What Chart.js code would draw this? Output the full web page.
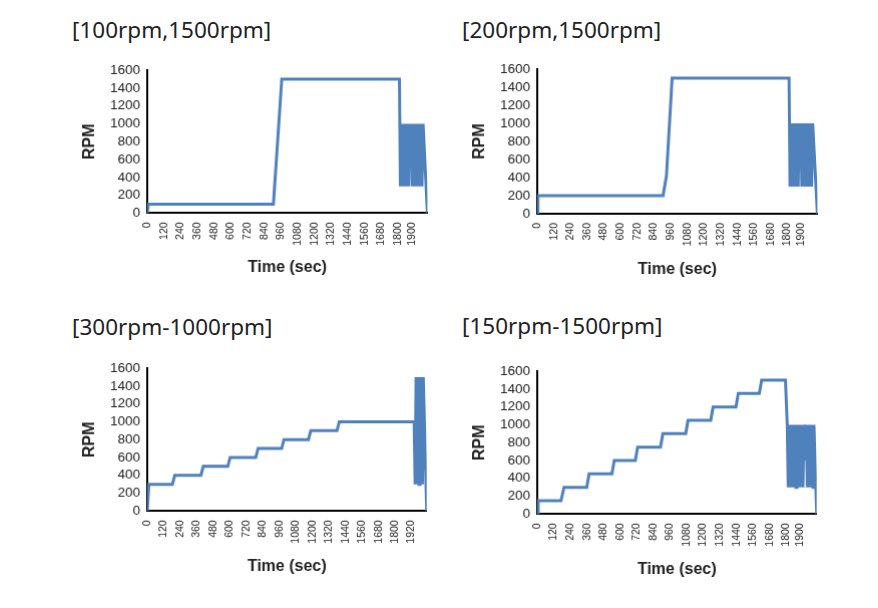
<!DOCTYPE html>
<html>
<head>
<meta charset="utf-8">
<script src="https://cdn.jsdelivr.net/npm/chart.js@4.4.1/dist/chart.umd.min.js"></script>
<style>
  body { margin: 0; background: #fff; width: 878px; height: 608px; position: relative; overflow: hidden; }
  .title { position: absolute; font-family: "Noto Sans", sans-serif; font-size: 22.5px; line-height: 22px; color: #222; white-space: nowrap; }
  .box { position: absolute; }
</style>
</head>
<body>
<div class="title" style="left:72px;top:19px">[100rpm,1500rpm]</div>
<div class="title" style="left:462px;top:19px">[200rpm,1500rpm]</div>
<div class="title" style="left:72px;top:316px">[300rpm-1000rpm]</div>
<div class="title" style="left:462px;top:315px">[150rpm-1500rpm]</div>

<div class="box" id="b1"><canvas id="c1"></canvas></div>
<div class="box" id="b2"><canvas id="c2"></canvas></div>
<div class="box" id="b3"><canvas id="c3"></canvas></div>
<div class="box" id="b4"><canvas id="c4"></canvas></div>

<script>
// ---- tick labels (sec) ----
const ticksTo1900 = [0, 120, 240, 360, 480, 600, 720, 840, 960, 1080, 1200, 1320, 1440, 1560, 1680, 1800, 1900];
const ticksTo1920 = [0, 120, 240, 360, 480, 600, 720, 840, 960, 1080, 1200, 1320, 1440, 1560, 1680, 1800, 1920];
const rpmTicks = [0, 200, 400, 600, 800, 1000, 1200, 1400, 1600];

// ---- [100rpm,1500rpm] ----
const time100 = [0, 8, 906, 966, 1811, 1818, 1826, 1833, 1841, 1848, 1856, 1863, 1870, 1877, 1884, 1890, 1896, 1903,
                 1910, 1917, 1924, 1931, 1938, 1945, 1952, 1959, 1966, 1973, 1981, 2012];
const rpm100  = [0, 100, 100, 1500, 1500, 300, 1000, 300, 1000, 300, 1000, 300, 1000, 300, 1000, 600, 1000, 300,
                 1000, 300, 1000, 300, 1000, 300, 1000, 300, 1000, 300, 1000, 0];

// ---- [200rpm,1500rpm] ----
const time200 = [0, 5, 905, 929, 970, 1811, 1818, 1826, 1833, 1841, 1848, 1856, 1863, 1870, 1877, 1884, 1890, 1896, 1903,
                 1910, 1917, 1924, 1931, 1938, 1945, 1952, 1959, 1966, 1973, 1981, 2015];
const rpm200  = [0, 200, 200, 420, 1500, 1500, 300, 1000, 300, 1000, 300, 1000, 300, 1000, 300, 1000, 600, 1000, 300,
                 1000, 300, 1000, 300, 1000, 300, 1000, 300, 1000, 300, 1000, 0];

// ---- [300rpm-1000rpm] ----
const time300 = [0, 12, 183, 200, 390, 407, 585, 602, 788, 805, 976, 993, 1171, 1188, 1378, 1395, 1939,
                 1946, 1953, 1960, 1967, 1974, 1981, 1988, 1994, 1999, 2005, 2030];
const rpm300  = [0, 300, 300, 400, 400, 500, 500, 600, 600, 700, 700, 800, 800, 900, 900, 1000, 1000,
                 300, 1500, 300, 1500, 300, 1500, 300, 1500, 300, 1500, 0];

// ---- [150rpm-1500rpm] ----
const time150 = [0, 7, 172, 194, 358, 375, 540, 557, 709, 726, 891, 908, 1073, 1090, 1254, 1271, 1436, 1453, 1605, 1622, 1794,
                 1807, 1814, 1821, 1828, 1835, 1842, 1849, 1856, 1863, 1870, 1877, 1884, 1891, 1898, 1904, 1909, 1914, 1921,
                 1928, 1935, 1940, 1945, 1952, 1959, 1966, 1973, 1980, 1987, 1994, 2000, 2020];
const rpm150  = [0, 150, 150, 300, 300, 450, 450, 600, 600, 750, 750, 900, 900, 1050, 1050, 1200, 1200, 1350, 1350, 1500, 1500,
                 1000, 300, 1000, 300, 1000, 300, 1000, 300, 1000, 300, 1000, 300, 1000, 300, 1000, 600, 1000, 300,
                 1000, 1000, 600, 1000, 300, 1000, 300, 1000, 300, 1000, 300, 1000, 0];

const LINE_BLUE = '#4F81BD';
const TEXT = '#222';
const SANS = '"Liberation Sans", Arial, sans-serif';

// place the box so that the plot area lands on the given rectangle
function makeChart(id, times, rpms, tickVals, area, timeTitleY) {
    const padL = 16, padR = 13, padT = 13;
    const yWidth = 71;
    const left = area.left - padL - yWidth;
    const top = area.top - padT;
    const width = area.right + padR - left;
    const xHeight = (timeTitleY + 13.6) - area.bottom;
    const height = area.bottom + xHeight - top;

    const box = document.getElementById('b' + id);
    box.style.left = left + 'px';
    box.style.top = top + 'px';
    box.style.width = width + 'px';
    box.style.height = height + 'px';

    new Chart(document.getElementById('c' + id), {
        type: 'line',
        data: {
            datasets: [{
                data: times.map((t, i) => ({ x: t, y: rpms[i] })),
                borderColor: LINE_BLUE,
                borderWidth: 3,
                pointRadius: 0,
                tension: 0,
                fill: false
            }]
        },
        options: {
            responsive: true,
            maintainAspectRatio: false,
            animation: false,
            layout: { padding: { left: padL, right: padR, top: padT, bottom: 0 } },
            plugins: { legend: { display: false }, tooltip: { enabled: false } },
            scales: {
                x: {
                    type: 'linear',
                    min: 0,
                    max: times[times.length - 1],
                    afterBuildTicks: s => { s.ticks = tickVals.map(v => ({ value: v })); },
                    afterFit: s => { s.height = xHeight; },
                    grid: { display: true, color: 'rgba(0,0,0,0)', drawTicks: false },
                    border: { display: true, color: '#000', width: 2 },
                    ticks: {
                        autoSkip: false,
                        minRotation: 90,
                        maxRotation: 90,
                        padding: 9,
                        color: TEXT,
                        font: { family: SANS, size: 10.5 },
                        callback: v => String(v)
                    },
                    title: {
                        display: true,
                        text: 'Time (sec)',
                        color: TEXT,
                        font: { family: SANS, size: 16, weight: 'bold' }
                    }
                },
                y: {
                    min: 0,
                    max: 1600,
                    afterBuildTicks: s => { s.ticks = rpmTicks.map(v => ({ value: v })); },
                    afterFit: s => { s.width = yWidth; },
                    grid: { display: true, color: 'rgba(0,0,0,0)', drawTicks: false },
                    border: { display: true, color: '#000', width: 2 },
                    ticks: {
                        autoSkip: false,
                        padding: 7,
                        color: TEXT,
                        font: { family: SANS, size: 13.5 },
                        callback: v => String(v)
                    },
                    title: {
                        display: true,
                        text: 'RPM',
                        color: TEXT,
                        font: { family: SANS, size: 16, weight: 'bold' }
                    }
                }
            }
        }
    });
}

makeChart(1, time100, rpm100, ticksTo1900, { left: 147.3, top: 68.3, right: 426.7, bottom: 212.7 }, 267);
makeChart(2, time200, rpm200, ticksTo1900, { left: 537.3, top: 66.7, right: 816.7, bottom: 212.7 }, 268);
makeChart(3, time300, rpm300, ticksTo1920, { left: 147.3, top: 365.7, right: 426, bottom: 510 }, 565);
makeChart(4, time150, rpm150, ticksTo1900, { left: 537.3, top: 369, right: 816, bottom: 513.3 }, 569);
</script>
</body>
</html>
